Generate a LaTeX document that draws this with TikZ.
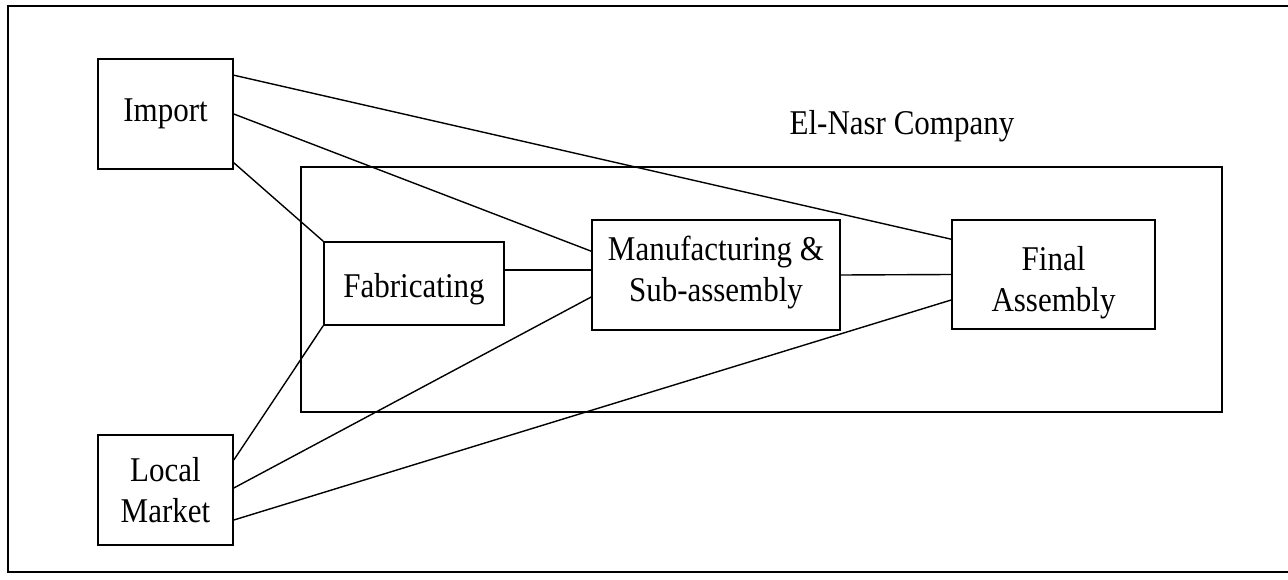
\documentclass[tikz,border=0pt]{standalone}
\usepackage{graphicx}
\usepackage{fontspec}
\setmainfont{Liberation Serif}
\newcommand\vt[1]{\scalebox{1}[1.12]{#1}}
\newcommand\lowtext[2]{\raisebox{#1}[\height][\depth]{\begin{tabular}{@{}c@{}}#2\end{tabular}}}
\begin{document}
\begin{tikzpicture}[x=1pt,y=-1pt,
  box/.style={draw, line width=1.6pt, rectangle, inner sep=0pt, align=center,
    font=\fontsize{31}{41}\selectfont},
  link/.style={draw, line width=1.4pt}]
\useasboundingbox (0,0) rectangle (1288,580);
\clip (0,0) rectangle (1288,580);
\draw[line width=1.4pt] (8,6) rectangle (1300,572);
\node[box, minimum width=921pt, minimum height=245pt] (comp) at (761.5,289.5) {};
\node[font=\fontsize{31}{41}\selectfont] (lbl) at (902,126) {\vt{El-Nasr Company}};
\node[box, minimum width=135pt, minimum height=110pt] (imp) at (165.5,114) {\vt{Import}};
\node[box, minimum width=135pt, minimum height=110pt] (loc) at (165.5,490) {\vt{Local}\\\vt{Market}};
\node[box, minimum width=180pt, minimum height=83pt] (fab) at (414,283.5) {\lowtext{-6pt}{\vt{Fabricating}}};
\node[box, minimum width=248pt, minimum height=110pt] (man) at (716,275) {\lowtext{2pt}{\vt{Manufacturing \&}\\\vt{Sub-assembly}}};
\node[box, minimum width=203pt, minimum height=109pt] (fin) at (1053.5,274.5) {\lowtext{-8pt}{\vt{Final}\\\vt{Assembly}}};
\draw[link] ([yshift=-17pt]imp.north east) -- ([yshift=-20pt]fin.north west);
\draw[link] (imp.east) -- ([yshift=-32pt]man.north west);
\draw[link] ([yshift=7pt]imp.south east) -- (fab.north west);
\draw[link] ([yshift=13.5pt]fab.east) -- ([yshift=5pt]man.west);
\draw[link] (man.east) -- (fin.west);
\draw[link] ([yshift=30pt]loc.east) -- (fab.south west);
\draw[link] ([yshift=2pt]loc.east) -- ([yshift=-22pt]man.west);
\draw[link] ([yshift=-30pt]loc.east) -- ([yshift=-25.5pt]fin.west);
\end{tikzpicture}
\end{document}
